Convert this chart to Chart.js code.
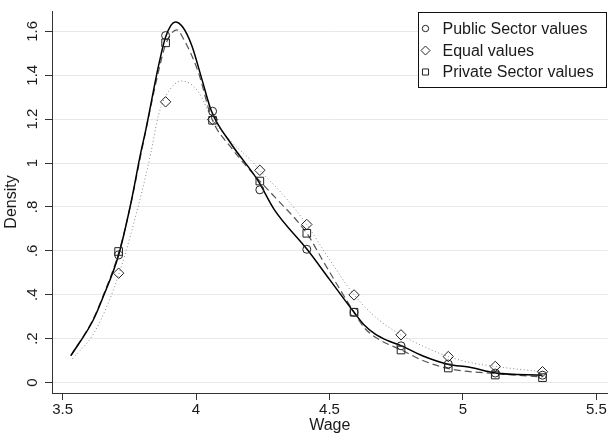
<!DOCTYPE html>
<html>
<head>
<meta charset="utf-8">
<script src="https://cdn.jsdelivr.net/npm/chart.js@4.4.1/dist/chart.umd.min.js"></script>
<style>
  html, body { margin: 0; padding: 0; background: #fff; }
</style>
</head>
<body>
<canvas id="densityChart" width="614" height="437"></canvas>
<script>
// wage points where the markers sit (same for all three series)
const wagePoints = [3.71, 3.886, 4.062, 4.239, 4.415, 4.592, 4.768, 4.945, 5.121, 5.298];
const publicValues = [0.581, 1.581, 1.236, 0.878, 0.607, 0.320, 0.167, 0.084, 0.043, 0.033];
const equalValues = [0.498, 1.279, 1.198, 0.967, 0.720, 0.399, 0.217, 0.118, 0.073, 0.049];
const privateValues = [0.597, 1.548, 1.195, 0.918, 0.680, 0.320, 0.148, 0.066, 0.034, 0.022];

// density curves
const publicCurveX = [3.531, 3.613, 3.650, 3.710, 3.756, 3.792, 3.811, 3.860, 3.886, 3.922, 3.950, 3.984, 4.021, 4.058, 4.132, 4.231, 4.293, 4.416, 4.500, 4.592, 4.630, 4.670, 4.720, 4.769, 4.848, 4.947, 5.021, 5.123, 5.298];
const publicCurveY = [0.122, 0.280, 0.384, 0.581, 0.818, 1.042, 1.147, 1.446, 1.575, 1.643, 1.620, 1.536, 1.386, 1.236, 1.087, 0.922, 0.788, 0.607, 0.470, 0.320, 0.262, 0.222, 0.190, 0.167, 0.122, 0.082, 0.070, 0.043, 0.033];

const privateCurveX = [3.531, 3.613, 3.650, 3.710, 3.756, 3.792, 3.860, 3.886, 3.928, 3.953, 4.008, 4.060, 4.132, 4.239, 4.293, 4.415, 4.478, 4.592, 4.630, 4.680, 4.769, 4.850, 4.947, 5.123, 5.298];
const privateCurveY = [0.122, 0.285, 0.390, 0.590, 0.815, 1.030, 1.420, 1.540, 1.607, 1.566, 1.416, 1.200, 1.070, 0.918, 0.848, 0.680, 0.549, 0.320, 0.250, 0.200, 0.148, 0.100, 0.063, 0.040, 0.025];

const equalCurveX = [3.537, 3.620, 3.710, 3.799, 3.830, 3.860, 3.897, 3.947, 4.008, 4.058, 4.130, 4.206, 4.239, 4.330, 4.415, 4.500, 4.592, 4.680, 4.768, 4.860, 4.945, 5.030, 5.121, 5.298];
const equalCurveY = [0.108, 0.230, 0.490, 0.878, 1.042, 1.222, 1.326, 1.374, 1.326, 1.207, 1.100, 1.012, 0.967, 0.850, 0.720, 0.560, 0.400, 0.290, 0.217, 0.160, 0.118, 0.090, 0.073, 0.049];

const xTicks = [3.5, 4, 4.5, 5, 5.5];
const xTickLabels = ['3.5', '4', '4.5', '5', '5.5'];
const yTicks = [0, 0.2, 0.4, 0.6, 0.8, 1, 1.2, 1.4, 1.6];
const yTickLabels = ['0', '.2', '.4', '.6', '.8', '1', '1.2', '1.4', '1.6'];

const legendNames = ['Public Sector values', 'Equal values', 'Private Sector values'];

const FONT = '"Liberation Sans", Arial, sans-serif';
const TEXT = '#1a1a1a';

function pts(xs, ys) {
    return xs.map((x, i) => ({ x: x, y: ys[i] }));
}

function curve(xs, ys, color, width, dash) {
    return {
        data: pts(xs, ys),
        borderColor: color,
        borderWidth: width,
        borderDash: dash,
        pointRadius: 0,
        fill: false,
        cubicInterpolationMode: 'monotone'
    };
}

function markers(ys, style, radius) {
    return {
        data: pts(wagePoints, ys),
        showLine: false,
        pointStyle: style,
        pointRadius: radius,
        pointBorderColor: '#222',
        pointBackgroundColor: 'rgba(0,0,0,0)',
        pointBorderWidth: 1
    };
}

// legend box drawn inside the plot, top right
const boxLegend = {
    id: 'boxLegend',
    afterDraw(chart) {
        const ctx = chart.ctx;
        ctx.save();
        ctx.strokeStyle = '#111';
        ctx.lineWidth = 1;
        ctx.fillStyle = '#fff';
        ctx.fillRect(418.5, 12.5, 188, 75);
        ctx.strokeRect(418.5, 12.5, 188, 75);
        const styles = [['circle', 3.2], ['rectRot', 4.5], ['rect', 4.3]];
        const rows = [28.5, 50.5, 72];
        ctx.font = '16px ' + FONT;
        ctx.textBaseline = 'middle';
        ctx.textAlign = 'left';
        legendNames.forEach((name, i) => {
            ctx.strokeStyle = '#222';
            ctx.fillStyle = 'rgba(0,0,0,0)';
            Chart.helpers.drawPoint(ctx, {
                pointStyle: styles[i][0],
                radius: styles[i][1],
                borderWidth: 1,
                rotation: 0
            }, 425.5, rows[i]);
            ctx.fillStyle = TEXT;
            ctx.fillText(name, 442.5, rows[i] + 1);
        });
        ctx.restore();
    }
};

const ctx = document.getElementById('densityChart').getContext('2d');
new Chart(ctx, {
    type: 'line',
    data: {
        datasets: [
            markers(publicValues, 'circle', 4),
            markers(equalValues, 'rectRot', 5.2),
            markers(privateValues, 'rect', 5.4),
            curve(publicCurveX, publicCurveY, '#000', 1.5, []),
            curve(privateCurveX, privateCurveY, '#555', 1.2, [7, 4]),
            curve(equalCurveX, equalCurveY, '#8a8a8a', 1, [1, 2.5])
        ]
    },
    options: {
        responsive: false,
        animation: false,
        layout: { padding: { top: 5, right: 0, bottom: 0, left: 0 } },
        scales: {
            x: {
                type: 'linear',
                min: 3.4604,
                max: 5.5419,
                afterFit: function (scale) { scale.height = 44; },
                afterBuildTicks: function (scale) { scale.ticks = xTicks.map(v => ({ value: v })); },
                ticks: {
                    callback: (v, i) => xTickLabels[i],
                    color: TEXT,
                    font: { family: FONT, size: 15 },
                    padding: 1,
                    maxRotation: 0,
                    autoSkip: false
                },
                grid: { drawOnChartArea: false, tickLength: 7, tickColor: '#333' },
                border: { color: '#333', width: 1 },
                title: {
                    display: true,
                    text: 'Wage',
                    color: TEXT,
                    font: { family: FONT, size: 16 },
                    padding: { top: 0, bottom: 2 }
                }
            },
            y: {
                min: -0.048,
                max: 1.693,
                afterFit: function (scale) { scale.width = 52; },
                afterBuildTicks: function (scale) { scale.ticks = yTicks.map(v => ({ value: v })); },
                ticks: {
                    callback: (v, i) => yTickLabels[i],
                    color: TEXT,
                    font: { family: FONT, size: 15 },
                    minRotation: 90,
                    maxRotation: 90,
                    crossAlign: 'center',
                    padding: 2,
                    autoSkip: false
                },
                grid: { color: '#e8e8e8', tickLength: 7, tickColor: '#333' },
                border: { color: '#333', width: 1 },
                title: {
                    display: true,
                    text: 'Density',
                    color: TEXT,
                    font: { family: FONT, size: 16 },
                    padding: { top: 2, bottom: 0 }
                }
            }
        },
        plugins: {
            legend: { display: false },
            tooltip: { enabled: false }
        }
    },
    plugins: [boxLegend]
});
</script>
</body>
</html>
